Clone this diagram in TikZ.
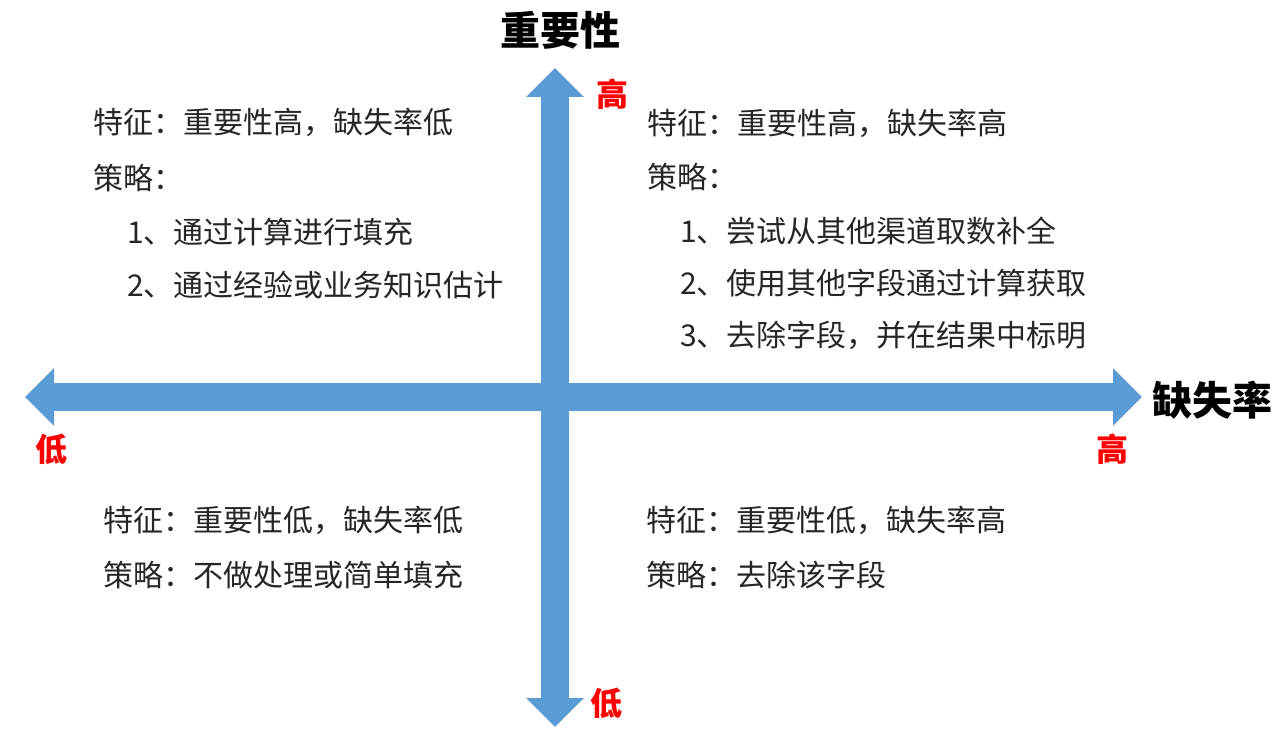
\documentclass[tikz,border=0pt]{standalone}
\usepackage{fontspec}
\setmainfont{Noto Sans CJK SC}
\usetikzlibrary{arrows.meta, positioning}
\definecolor{axisblue}{RGB}{91,155,213}
\definecolor{levelred}{RGB}{255,0,0}
\definecolor{bodygray}{RGB}{38,38,38}

\begin{document}
\begin{tikzpicture}[x=0.75pt, y=-0.75pt,
    axis/.style={line width=21pt, color=axisblue, {Triangle[length=21.75pt, width=42pt]}-{Triangle[length=21.75pt, width=42pt]}},
    title/.style={font=\fontsize{30}{36}\selectfont\bfseries, text=black, inner sep=0pt},
    level/.style={font=\fontsize{24}{28}\selectfont\bfseries, text=levelred, inner sep=0pt},
    line/.style={font=\fontsize{22.5}{27}\selectfont, text=bodygray, anchor=west, inner sep=0pt}
]
\useasboundingbox[fill=white] (0,0) rectangle (1285,738);
% axes
\coordinate (ylow) at (555,727);
\coordinate (yhigh) at (555,68);
\coordinate (xlow) at (25,397);
\coordinate (xhigh) at (1142,397);
\draw[axis] (xlow) -- (xhigh);
\draw[axis] (ylow) -- (yhigh);
% axis names and levels
\node[title] (ytitle) at (560,30) {重要性};
\node[title] (xtitle) at (1212,400) {缺失率};
\node[level] (yhi) at (612,94) {高};
\node[level] (ylo) at (606,703) {低};
\node[level] (xlo) at (52,449) {低};
\node[level] (xhi) at (1112,449) {高};
% top left
\node[line] (q1a) at (93,122) {特征：重要性高，缺失率低};
\node[line] (q1b) at (93,178) {策略：};
\node[line] (q1c) at (127,232) {1、通过计算进行填充};
\node[line] (q1d) at (127,285) {2、通过经验或业务知识估计};
% top right
\node[line] (q2a) at (647,123) {特征：重要性高，缺失率高};
\node[line] (q2b) at (647,177) {策略：};
\node[line] (q2c) at (680,231) {1、尝试从其他渠道取数补全};
\node[line] (q2d) at (680,283) {2、使用其他字段通过计算获取};
\node[line] (q2e) at (680,335) {3、去除字段，并在结果中标明};
% bottom left
\node[line] (q3a) at (103,520) {特征：重要性低，缺失率低};
\node[line] (q3b) at (103,575) {策略：不做处理或简单填充};
% bottom right
\node[line] (q4a) at (646,520) {特征：重要性低，缺失率高};
\node[line] (q4b) at (646,575) {策略：去除该字段};
\end{tikzpicture}
\end{document}
